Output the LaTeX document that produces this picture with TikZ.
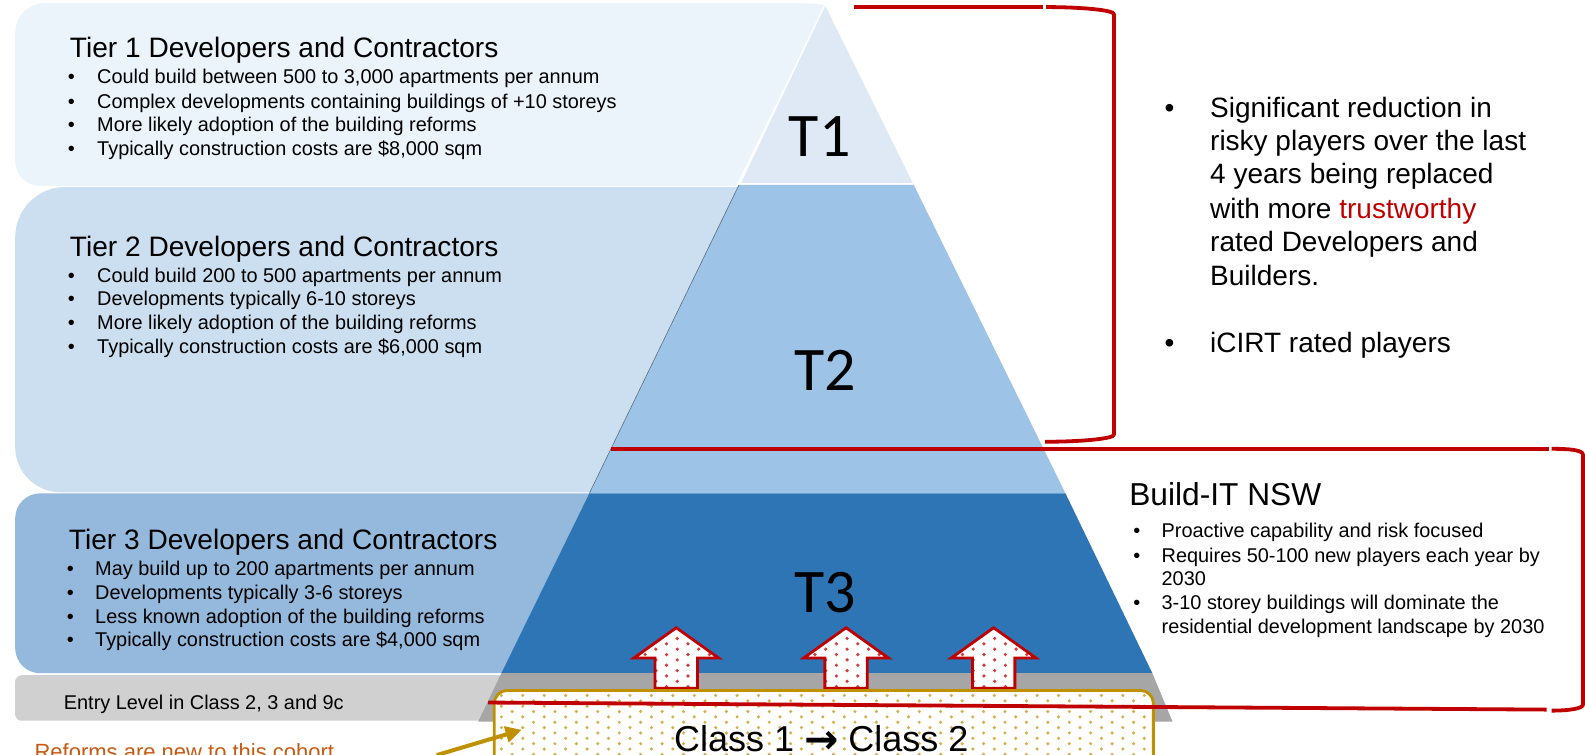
\documentclass[tikz,border=0pt]{standalone}
\usepackage{fontspec}
\usetikzlibrary{arrows.meta}
\setmainfont{Liberation Sans}
\newfontfamily\carl{Carlito}
\newfontfamily\djv{DejaVu Sans}
\definecolor{redc}{HTML}{C00000}
\definecolor{goldc}{HTML}{BF9000}
\definecolor{orangec}{HTML}{C55A11}
\definecolor{pOne}{HTML}{EBF3FB}
\definecolor{pTwo}{HTML}{CCDFF1}
\definecolor{pThree}{HTML}{95B9DC}
\definecolor{pEntry}{HTML}{D0D0D0}
\definecolor{lOne}{HTML}{DEE9F5}
\definecolor{lTwo}{HTML}{9DC3E6}
\definecolor{lThree}{HTML}{2E75B6}
\definecolor{lGrey}{HTML}{A6A6A6}
\newcommand{\fs}[1]{\fontsize{#1}{#1}\selectfont}
\tikzset{
  x=1.0108pt,y=-1.0108pt,
  txt/.style={inner sep=0pt,anchor=base west,text=black,yshift=-1pt},
  head/.style={txt,font=\fs{28.1}},
  item/.style={txt,font=\fs{19.9}},
  big/.style={txt,font=\fs{28}},
  tier/.style={inner sep=0pt,anchor=base,text=black,font=\carl\fs{62}},
  bracket/.style={draw=redc,line width=3.8pt,line cap=butt,line join=round},
  uparrow/.style={draw=redc,line width=2.8pt,line join=miter},
}
\begin{document}
\begin{tikzpicture}
\useasboundingbox (0,0) rectangle (1568,746);
\clip (0,0) rectangle (1568,746);
% left panels
\fill[pOne] (15,33) .. controls (15,16) and (28,3) .. (45,3) -- (780,3) .. controls (800,3) and (808,4) .. (816,5) -- (728,184) -- (40,184) .. controls (26,184) and (15,173) .. (15,159) -- cycle;
\fill[pTwo] (15,235) .. controls (15,207) and (37,185) .. (65,185) -- (730,185) -- (583,487) -- (60,487) .. controls (35,487) and (15,467) .. (15,442) -- cycle;
\fill[pThree] (15,513) .. controls (15,499) and (26,488) .. (40,488) -- (583,488) -- (497,666) -- (40,666) .. controls (26,666) and (15,655) .. (15,641) -- cycle;
\fill[pEntry] (15,674) .. controls (15,671) and (18,668) .. (21,668) -- (497,668) -- (475,713) -- (21,713) .. controls (18,713) and (15,710) .. (15,707) -- cycle;
% pyramid
\fill[lOne] (816,5) -- (903,181) -- (733,181) -- cycle;
\fill[lTwo] (731,183) -- (904,183) -- (1054,488) -- (583,488) -- cycle;
\fill[lThree] (583,488) -- (1054,488) -- (1140,666) -- (496,666) -- cycle;
\fill[lGrey] (496,666) -- (1140,666) -- (1160,714) -- (473,714) -- cycle;
\draw[white,line width=1.4pt] (816,5) -- (732,181);
\draw[color=black!45!lTwo,line width=0.6pt] (731,183) -- (583,488);
% arrows
\foreach \c in {669,837,983}{
  \begin{scope}
    \clip (\c,621) -- (\c+42,651) -- (\c+21,651) -- (\c+21,681) -- (\c-21,681) -- (\c-21,651) -- (\c-42,651) -- cycle;
    \fill[white] (\c-45,615) rectangle (\c+45,685);
    \foreach \i in {-4,...,4}{
      \pgfmathsetmacro{\off}{Mod(\i,2)*5.3}
      \foreach \j in {0,...,6}{
        \fill[redc!75] ({\c+\i*10.6+1},{621+\j*10.6+\off}) circle[radius=1.8];
      }
    }
  \end{scope}
  \draw[uparrow] (\c,621) -- (\c+42,651) -- (\c+21,651) -- (\c+21,681) -- (\c-21,681) -- (\c-21,651) -- (\c-42,651) -- cycle;
}
% class box
\begin{scope}
  \clip[rounded corners=13] (489,683) rectangle (1141,760);
  \fill[white] (489,683) rectangle (1141,760);
  \foreach \i in {0,...,61}{
    \pgfmathsetmacro{\off}{Mod(\i,2)*5.3}
    \foreach \j in {0,...,7}{
      \fill[goldc!70] ({496+\i*10.6},{688+\j*10.6+\off}) circle[radius=1.7];
    }
  }
\end{scope}
\draw[goldc,line width=2.8pt,rounded corners=13] (489,683) rectangle (1141,760);
\node[inner sep=0pt,anchor=base,text=black,font=\fs{36}] (classes) at (812.5,743) {Class 1 \raisebox{-2.5pt}{\djv\bfseries\fontsize{41}{41}\selectfont →} Class 2};
% tier labels
\node[tier] (tA) at (811,155) {T1};
\node[tier] (tB) at (816,386) {T2};
\node[tier] (tC) at (816,606) {T3};
% left text
\node[head] (hA) at (69,56) {Tier 1 Developers and Contractors};
\foreach \n/\y/\t in {a/82/{Could build between 500 to 3,000 apartments per annum},b/106/{Complex developments containing buildings of +10 storeys},c/129/{More likely adoption of the building reforms},d/153/{Typically construction costs are \$8,000 sqm}}{
  \node[item] (bA\n) at (67,\y) {•};
  \node[item] (iA\n) at (96,\y) {\t};
}
\node[head] (hB) at (69,253) {Tier 2 Developers and Contractors};
\foreach \n/\y/\t in {a/278/{Could build 200 to 500 apartments per annum},b/301/{Developments typically 6-10 storeys},c/325/{More likely adoption of the building reforms},d/349/{Typically construction costs are \$6,000 sqm}}{
  \node[item] (bB\n) at (67,\y) {•};
  \node[item] (iB\n) at (96,\y) {\t};
}
\node[head] (hC) at (68,543) {Tier 3 Developers and Contractors};
\foreach \n/\y/\t in {a/568/{May build up to 200 apartments per annum},b/592/{Developments typically 3-6 storeys},c/616/{Less known adoption of the building reforms},d/639/{Typically construction costs are \$4,000 sqm}}{
  \node[item] (bC\n) at (66,\y) {•};
  \node[item] (iC\n) at (94,\y) {\t};
}
\node[item] (entry) at (63,701) {Entry Level in Class 2, 3 and 9c};
\node[txt,font=\fs{22},text=orangec] (reform) at (34,750) {Reforms are new to this cohort};
% right text
\foreach \n/\y/\t in {a/115/{Significant reduction in},b/148/{risky players over the last},c/181/{4 years being replaced},d/215/{with more \textcolor{redc}{trustworthy}},e/248/{rated Developers and},f/281/{Builders.}}{
  \node[big] (r\n) at (1197,\y) {\t};
}
\node[big] (bRa) at (1152,115) {•};
\node[big] (bRb) at (1152,348) {•};
\node[big] (rg) at (1197,348) {iCIRT rated players};
\node[txt,font=\fs{31.7}] (build) at (1117,499) {Build-IT NSW};
\foreach \n/\y/\t in {a/531/{Proactive capability and risk focused},b/555/{Requires 50-100 new players each year by},c/578/{2030},d/602/{3-10 storey buildings will dominate the},e/626/{residential development landscape by 2030}}{
  \node[item] (s\n) at (1149,\y) {\t};
}
\node[item] (bSa) at (1121,531) {•};
\node[item] (bSb) at (1121,555) {•};
\node[item] (bSc) at (1121,602) {•};
% red brackets
\coordinate (ua) at (845,7); \coordinate (ub) at (1032,7); \coordinate (uc) at (1035,7);
\coordinate (ud) at (1102,14); \coordinate (ue) at (1102,430); \coordinate (uf) at (1034,437);
\draw[bracket] (ua) -- (ub);
\draw[bracket] (uc) .. controls (1070,7) and (1102,10) .. (ud) -- (ue) .. controls (1102,434) and (1070,437) .. (uf);
\coordinate (la) at (604,444); \coordinate (lb) at (1532,444); \coordinate (lc) at (1535,444);
\coordinate (ld) at (1566,450); \coordinate (le) at (1566,697); \coordinate (lf) at (1535,703);
\coordinate (lg) at (1530,702); \coordinate (lh) at (483,695);
\draw[bracket] (la) -- (lb);
\draw[bracket] (lc) .. controls (1552,444) and (1566,445) .. (ld) -- (le) .. controls (1566,701) and (1552,703) .. (lf);
\draw[bracket] (lh) -- (lg);
% gold arrow
\coordinate (ga) at (432,747); \coordinate (gb) at (516,722);
\draw[goldc,line width=4pt,-{Triangle[length=16pt,width=16pt]}] (ga) -- (gb);
\end{tikzpicture}
\end{document}
